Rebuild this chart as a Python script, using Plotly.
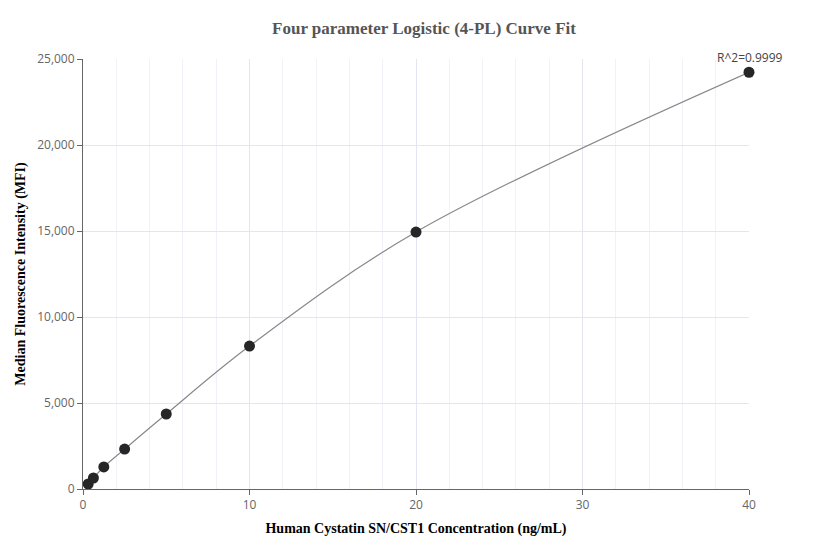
import plotly.graph_objects as go

conc = [0.3125, 0.625, 1.25, 2.5, 5, 10, 20, 40]
mfi = [290, 640, 1280, 2320, 4360, 8310, 14940, 24230]
r2_label = "R^2=0.9999"

fig = go.Figure()
fig.add_trace(go.Scatter(x=conc, y=mfi, mode="lines", line=dict(color="#888888", width=1.2, shape="spline"), hoverinfo="skip"))
fig.add_trace(go.Scatter(x=conc, y=mfi, mode="markers", marker=dict(color="#262626", size=11), cliponaxis=False))
fig.add_annotation(x=40, y=mfi[-1], text=r2_label, showarrow=False, xanchor="right", yanchor="bottom", yshift=4, xshift=36,
                   font=dict(family="Open Sans", size=12, color="#444"))
axis_common = dict(showline=True, linecolor="#666", linewidth=1, ticks="outside", ticklen=5, tickcolor="#666",
                   gridcolor="#e3e6f0", zeroline=False, tickfont=dict(family="Open Sans", size=12, color="#666"))
fig.update_layout(
    width=832, height=560, plot_bgcolor="white", paper_bgcolor="white", showlegend=False,
    margin=dict(l=75, r=91, t=51, b=79),
    title=dict(text="<b>Four parameter Logistic (4-PL) Curve Fit</b>", x=0.5, y=0.975, xanchor="center", yanchor="top",
               font=dict(family="Times New Roman, Liberation Serif", size=17, color="#555")),
    xaxis=dict(range=[0, 40], dtick=10, minor=dict(dtick=2, showgrid=True, gridcolor="#f0f2f8"),
               title=dict(text="<b>Human Cystatin SN/CST1 Concentration (ng/mL)</b>", standoff=10,
                          font=dict(family="Times New Roman, Liberation Serif", size=14, color="#000")), **axis_common),
    yaxis=dict(range=[0, 25000], dtick=5000, tickformat=",",
               title=dict(text="<b>Median Fluorescence Intensity (MFI)</b>", standoff=8,
                          font=dict(family="Times New Roman, Liberation Serif", size=14, color="#000")), **axis_common),
)
fig.write_html("out.html")
